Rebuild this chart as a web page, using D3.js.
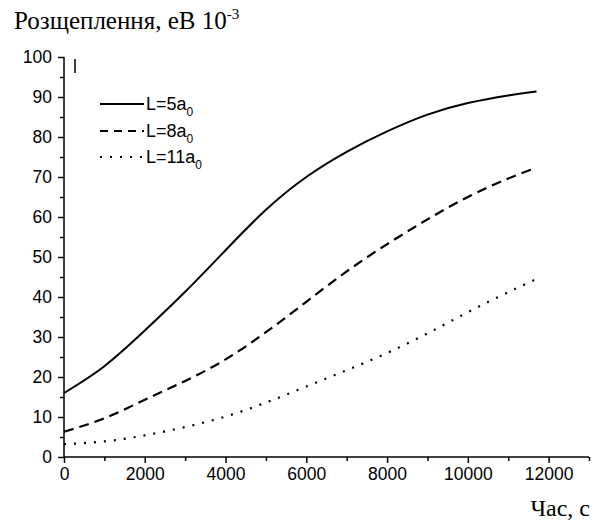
<!DOCTYPE html>
<html><head><meta charset="utf-8">
<script src="https://cdn.jsdelivr.net/npm/d3@7"></script>
<style>body{margin:0;background:#fff}</style>
</head><body>
<svg id="c" width="595" height="525"></svg>
<script>
const times5 = [0,1000,2000,3000,4000,5000,6000,7000,8000,9000,10000,11000,11700];
const series5 = [16,22.7,31.6,41.3,51.7,61.8,70,76.3,81.4,85.6,88.5,90.4,91.4];
const times8 = [0,1000,2000,3000,4000,5000,6000,7000,8000,9000,10000,11000,11700];
const series8 = [6.3,9.7,14.3,19,24.4,31.2,38.8,46.4,53.2,59.4,65,69.6,72.3];
const times11 = [0,1000,2000,3000,4000,5000,6000,7000,8000,9000,10000,11000,11700];
const series11 = [3.2,3.9,5.4,7.5,10.1,13.6,17.6,21.7,26,30.9,36.2,41.2,44.5];
const xMajor = [0,2000,4000,6000,8000,10000,12000];
const xMinor = [1000,3000,5000,7000,9000,11000,13000];
const yMajor = [0,10,20,30,40,50,60,70,80,90,100];
const yMinor = [5,15,25,35,45,55,65,75,85,95];
const legendLabels = ["L=5a","L=8a","L=11a"];
const yTitle = "Розщеплення, еВ 10";
const xTitle = "Час, с";

const svg = d3.select("#c");
const x = d3.scaleLinear().domain([0,13000]).range([64,589]);
const y = d3.scaleLinear().domain([0,100]).range([457,57]);
const sans = "'Liberation Sans', Arial, sans-serif";
const serif = "'Liberation Serif', 'Times New Roman', serif";
const fs = 17.5;

// axes
const gx = svg.append("g").attr("transform","translate(0,457)")
  .call(d3.axisBottom(x).tickValues(xMajor).tickSize(6).tickPadding(5).tickFormat(d3.format("d")));
const gxm = svg.append("g").attr("transform","translate(0,457)")
  .call(d3.axisBottom(x).tickValues(xMinor).tickSize(4).tickFormat(""));
gxm.select(".domain").remove();
const gy = svg.append("g").attr("transform","translate(64,0)")
  .call(d3.axisLeft(y).tickValues(yMajor).tickSize(6).tickPadding(6));
const gym = svg.append("g").attr("transform","translate(64,0)")
  .call(d3.axisLeft(y).tickValues(yMinor).tickSize(4).tickFormat(""));
gym.select(".domain").remove();
[gx,gxm,gy,gym].forEach(g=>{
  g.selectAll("path,line").attr("stroke","#000").attr("stroke-width",1.5);
  g.selectAll("text").attr("font-family",sans).attr("font-size",fs).attr("fill","#000");
});
gx.select(".domain").attr("d","M64,0H589");
gy.select(".domain").attr("d","M0,457V57");

// small mark near top
svg.append("line").attr("x1",75).attr("x2",75).attr("y1",59).attr("y2",73)
  .attr("stroke","#000").attr("stroke-width",1.5);

// lines
const styles = [
  {w:2, dash:null},
  {w:2.2, dash:"10,6"},
  {w:2.2, dash:"2,8"}
];
const data = [
  times5.map((t,i)=>[t,series5[i]]),
  times8.map((t,i)=>[t,series8[i]]),
  times11.map((t,i)=>[t,series11[i]])
];
const line = d3.line().x(d=>x(d[0])).y(d=>y(d[1])).curve(d3.curveNatural);
data.forEach((d,i)=>{
  svg.append("path").attr("d",line(d)).attr("fill","none").attr("stroke","#000")
    .attr("stroke-width",styles[i].w).attr("stroke-dasharray",styles[i].dash);
});

// legend
const legY = [104,131,157];
legendLabels.forEach((lab,i)=>{
  svg.append("line").attr("x1",100).attr("x2",144).attr("y1",legY[i]).attr("y2",legY[i])
    .attr("stroke","#000").attr("stroke-width",styles[i].w)
    .attr("stroke-dasharray", i===1 ? "8,6" : styles[i].dash);
  const t = svg.append("text").attr("x",146).attr("y",legY[i]+6)
    .attr("font-family",sans).attr("font-size",18).attr("fill","#000");
  t.append("tspan").text(lab);
  t.append("tspan").attr("font-size",12).attr("dy",6).text("0");
});

// titles
const tt = svg.append("text").attr("x",14).attr("y",29).attr("font-family",serif)
  .attr("font-size",25).attr("fill","#000");
tt.append("tspan").text(yTitle);
tt.append("tspan").attr("font-size",15).attr("dy",-10).text("-3");
svg.append("text").attr("x",590).attr("y",516).attr("text-anchor","end")
  .attr("font-family",serif).attr("font-size",24).attr("fill","#000").text(xTitle);
</script>
</body></html>
